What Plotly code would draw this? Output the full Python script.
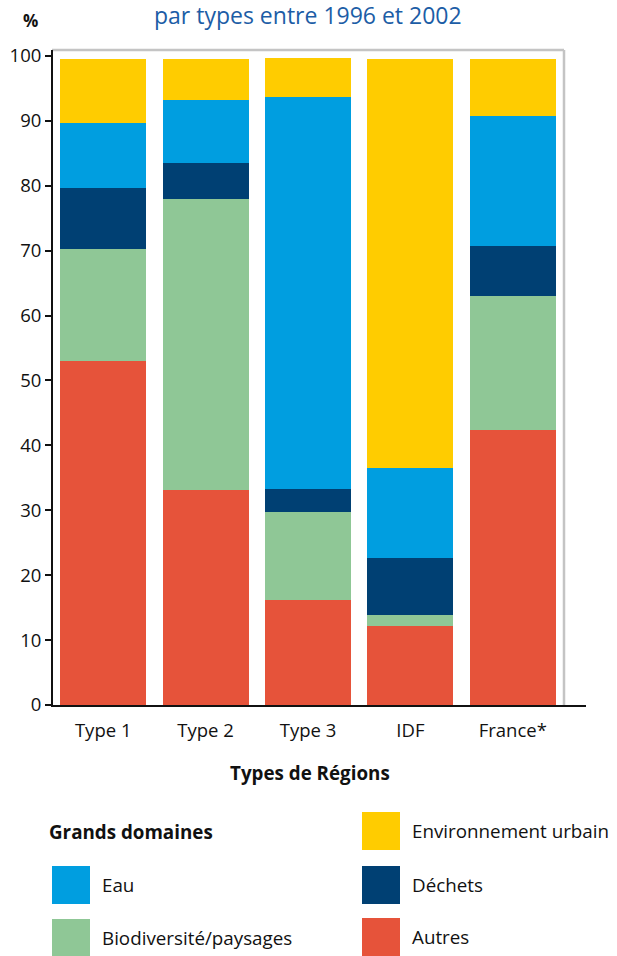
import plotly.graph_objects as go

# Répartition des dépenses par grands domaines, par types de régions (%)
regions = ["Type 1", "Type 2", "Type 3", "IDF", "France*"]

autres = [53.0, 33.1, 16.1, 12.2, 42.3]
biodiversite = [17.2, 44.8, 13.7, 1.6, 20.7]
dechets = [9.5, 5.6, 3.4, 8.8, 7.7]
eau = [9.9, 9.7, 60.4, 13.9, 20.1]
env_urbain = [9.9, 6.3, 6.0, 63.0, 8.7]

y_ticks = [0, 10, 20, 30, 40, 50, 60, 70, 80, 90, 100]

series = [
    ("Autres", autres, "#E6533A"),
    ("Biodiversité/paysages", biodiversite, "#8FC796"),
    ("Déchets", dechets, "#004073"),
    ("Eau", eau, "#009EE0"),
    ("Environnement urbain", env_urbain, "#FFCC00"),
]
colors = {name: col for name, _, col in series}

W, H = 617, 956
L, R, T, B = 52, 564, 50, 705  # plot area in pixels


def px(x):
    return (x - L) / (R - L)


def py(y):
    return (B - y) / (B - T)


FONT = "Open Sans, Noto Sans, sans-serif"
TXT = 18.8

fig = go.Figure()
for name, vals, col in series:
    fig.add_trace(go.Bar(
        x=regions, y=vals, name=name,
        marker=dict(color=col, line=dict(width=0)),
        showlegend=False,
    ))

fig.update_layout(
    width=W, height=H,
    margin=dict(l=L, r=W - R, t=T, b=H - B, autoexpand=False),
    barmode="stack", bargap=0.16,
    plot_bgcolor="white", paper_bgcolor="white",
    font=dict(family=FONT, size=TXT, color="#111"),
    xaxis=dict(showgrid=False, showline=False, ticks="", zeroline=False,
               tickfont=dict(size=18.5, color="#111"), ticklabelstandoff=12,
               automargin=False, fixedrange=True),
    yaxis=dict(range=[0, 100.9], tickvals=y_ticks, showgrid=False,
               zeroline=False, showline=False, ticks="outside", ticklen=6,
               tickwidth=1.5, tickcolor="#111", automargin=False,
               tickfont=dict(size=18.5, color="#111"), fixedrange=True),
)

shapes = [
    # light frame on top and right
    dict(type="line", xref="paper", yref="paper", x0=0, x1=1, y0=1, y1=1,
         line=dict(color="#C4C4C4", width=2.5)),
    dict(type="line", xref="paper", yref="paper", x0=1, x1=1, y0=0, y1=1,
         line=dict(color="#C4C4C4", width=2.5)),
    # black axes
    dict(type="line", xref="paper", yref="paper", x0=0, x1=0, y0=py(707), y1=1,
         line=dict(color="#111", width=2)),
    dict(type="line", xref="paper", yref="paper", x0=0, x1=px(586),
         y0=py(706), y1=py(706), line=dict(color="#111", width=2)),
]

annotations = [
    dict(text="par types entre 1996 et 2002", x=px(308), y=py(15),
         xref="paper", yref="paper", showarrow=False, xanchor="center",
         yanchor="middle", font=dict(size=23, color="#1C5DA6")),
    dict(text="<b>%</b>", x=px(30), y=py(21), xref="paper", yref="paper",
         showarrow=False, xanchor="center", yanchor="middle",
         font=dict(size=17, color="#111")),
    dict(text="<b>Types de Régions</b>", x=px(310), y=py(773), xref="paper",
         yref="paper", showarrow=False, xanchor="center", yanchor="middle",
         font=dict(size=TXT, color="#111")),
    dict(text="<b>Grands domaines</b>", x=px(47), y=py(832), xref="paper",
         yref="paper", showarrow=False, xanchor="left", yanchor="middle",
         font=dict(size=TXT, color="#111")),
]

legend_items = [
    ("Eau", 52, 885),
    ("Biodiversité/paysages", 52, 938),
    ("Environnement urbain", 362, 831),
    ("Déchets", 362, 885),
    ("Autres", 362, 937),
]
for name, x0, yc in legend_items:
    shapes.append(dict(type="rect", xref="paper", yref="paper",
                       x0=px(x0), x1=px(x0 + 38), y0=py(yc + 19), y1=py(yc - 19),
                       line=dict(width=0), fillcolor=colors[name]))
    annotations.append(dict(text=name, x=px(x0 + 48), y=py(yc), xref="paper",
                            yref="paper", showarrow=False, xanchor="left",
                            yanchor="middle", font=dict(size=TXT, color="#111")))

fig.update_layout(shapes=shapes, annotations=annotations)
fig.write_html("out.html")
